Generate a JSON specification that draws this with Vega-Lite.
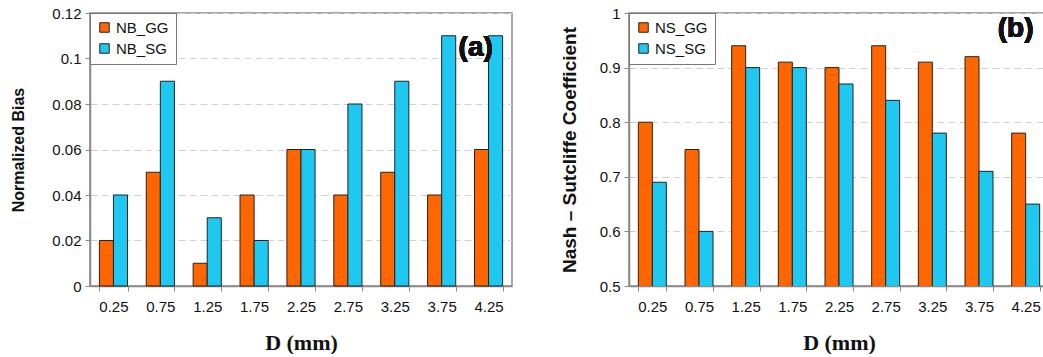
{
  "$schema": "https://vega.github.io/schema/vega-lite/v6.json",
  "padding": {"left": 10, "top": 5, "right": 0, "bottom": 0},
  "background": "white",
  "spacing": 46,
  "config": {
    "font": "Liberation Sans",
    "view": {"stroke": "#888888", "strokeWidth": 1.5},
    "axis": {
      "labelFont": "Liberation Sans",
      "labelFontSize": 15,
      "labelColor": "#111111",
      "domainColor": "#888888",
      "domainWidth": 1.5,
      "tickColor": "#888888",
      "tickSize": 5,
      "titleColor": "#111111"
    },
    "axisY": {
      "gridDash": [7, 4],
      "gridColor": "#d0d0d0",
      "titleFont": "Liberation Sans",
      "titleFontWeight": "bold",
      "labelPadding": 4
    },
    "axisX": {
      "grid": false,
      "labelAngle": 0,
      "labelPadding": 8,
      "tickBand": "extent",
      "titleFont": "Liberation Serif",
      "titleFontWeight": "bold",
      "titleFontSize": 22,
      "titlePadding": 18
    },
    "legend": {
      "orient": "top-left",
      "offset": 0,
      "strokeColor": "#777777",
      "fillColor": "white",
      "padding": 7,
      "title": null,
      "symbolType": "square",
      "symbolSize": 90,
      "symbolStrokeColor": "#222222",
      "symbolStrokeWidth": 1,
      "labelFontSize": 15,
      "labelColor": "#111111",
      "rowPadding": 5
    }
  },
  "hconcat": [
    {
      "width": 422,
      "height": 273,
      "data": {"values": [
        {"D": "0.25", "series": "NB_GG", "value": 0.02},
        {"D": "0.25", "series": "NB_SG", "value": 0.04},
        {"D": "0.75", "series": "NB_GG", "value": 0.05},
        {"D": "0.75", "series": "NB_SG", "value": 0.09},
        {"D": "1.25", "series": "NB_GG", "value": 0.01},
        {"D": "1.25", "series": "NB_SG", "value": 0.03},
        {"D": "1.75", "series": "NB_GG", "value": 0.04},
        {"D": "1.75", "series": "NB_SG", "value": 0.02},
        {"D": "2.25", "series": "NB_GG", "value": 0.06},
        {"D": "2.25", "series": "NB_SG", "value": 0.06},
        {"D": "2.75", "series": "NB_GG", "value": 0.04},
        {"D": "2.75", "series": "NB_SG", "value": 0.08},
        {"D": "3.25", "series": "NB_GG", "value": 0.05},
        {"D": "3.25", "series": "NB_SG", "value": 0.09},
        {"D": "3.75", "series": "NB_GG", "value": 0.04},
        {"D": "3.75", "series": "NB_SG", "value": 0.11},
        {"D": "4.25", "series": "NB_GG", "value": 0.06},
        {"D": "4.25", "series": "NB_SG", "value": 0.11}
      ]},
      "layer": [
        {
          "mark": {"type": "bar", "stroke": "#222222", "strokeWidth": 1},
          "encoding": {
            "x": {"field": "D", "type": "nominal", "title": "D (mm)",
                  "scale": {"paddingInner": 0.4, "paddingOuter": 0.2}},
            "xOffset": {"field": "series", "type": "nominal", "scale": {"paddingInner": 0, "paddingOuter": 0}},
            "y": {"field": "value", "type": "quantitative", "title": "Normalized Bias",
                  "scale": {"domain": [0, 0.12], "nice": false},
                  "axis": {"values": [0, 0.02, 0.04, 0.06, 0.08, 0.1, 0.12], "format": ".2~f", "grid": true, "titlePadding": 25, "titleFontSize": 16}},
            "color": {"field": "series", "type": "nominal",
                      "scale": {"domain": ["NB_GG", "NB_SG"], "range": ["#FF6600", "#1EC8F0"]}}
          }
        },
        {
          "mark": {"type": "text", "fontSize": 28, "fontWeight": "bold", "font": "Liberation Sans", "color": "#111111", "dx": 34},
          "encoding": {
            "x": {"datum": "3.75"},
            "y": {"datum": 0.1046},
            "text": {"value": "(a)"}
          }
        }
      ],
      "resolve": {"scale": {"xOffset": "independent"}}
    },
    {
      "width": 420,
      "height": 273,
      "data": {"values": [
        {"D": "0.25", "series": "NS_GG", "value": 0.80},
        {"D": "0.25", "series": "NS_SG", "value": 0.69},
        {"D": "0.75", "series": "NS_GG", "value": 0.75},
        {"D": "0.75", "series": "NS_SG", "value": 0.60},
        {"D": "1.25", "series": "NS_GG", "value": 0.94},
        {"D": "1.25", "series": "NS_SG", "value": 0.90},
        {"D": "1.75", "series": "NS_GG", "value": 0.91},
        {"D": "1.75", "series": "NS_SG", "value": 0.90},
        {"D": "2.25", "series": "NS_GG", "value": 0.90},
        {"D": "2.25", "series": "NS_SG", "value": 0.87},
        {"D": "2.75", "series": "NS_GG", "value": 0.94},
        {"D": "2.75", "series": "NS_SG", "value": 0.84},
        {"D": "3.25", "series": "NS_GG", "value": 0.91},
        {"D": "3.25", "series": "NS_SG", "value": 0.78},
        {"D": "3.75", "series": "NS_GG", "value": 0.92},
        {"D": "3.75", "series": "NS_SG", "value": 0.71},
        {"D": "4.25", "series": "NS_GG", "value": 0.78},
        {"D": "4.25", "series": "NS_SG", "value": 0.65}
      ]},
      "layer": [
        {
          "mark": {"type": "bar", "stroke": "#222222", "strokeWidth": 1, "clip": true},
          "encoding": {
            "x": {"field": "D", "type": "nominal", "title": "D (mm)",
                  "scale": {"paddingInner": 0.4, "paddingOuter": 0.2}},
            "xOffset": {"field": "series", "type": "nominal", "scale": {"paddingInner": 0, "paddingOuter": 0}},
            "y": {"field": "value", "type": "quantitative", "title": "Nash – Sutcliffe  Coefficient",
                  "scale": {"domain": [0.5, 1], "nice": false, "zero": false},
                  "axis": {"values": [0.5, 0.6, 0.7, 0.8, 0.9, 1], "format": ".1~f", "grid": true, "titlePadding": 20, "titleFontSize": 19}},
            "color": {"field": "series", "type": "nominal",
                      "scale": {"domain": ["NS_GG", "NS_SG"], "range": ["#FF6600", "#1EC8F0"]}}
          }
        },
        {
          "mark": {"type": "text", "fontSize": 28, "fontWeight": "bold", "font": "Liberation Sans", "color": "#111111", "dx": -10},
          "encoding": {
            "x": {"datum": "4.25"},
            "y": {"datum": 0.971},
            "text": {"value": "(b)"}
          }
        }
      ],
      "resolve": {"scale": {"xOffset": "independent"}}
    }
  ],
  "resolve": {"scale": {"color": "independent", "xOffset": "independent", "x": "independent", "y": "independent"}}
}
